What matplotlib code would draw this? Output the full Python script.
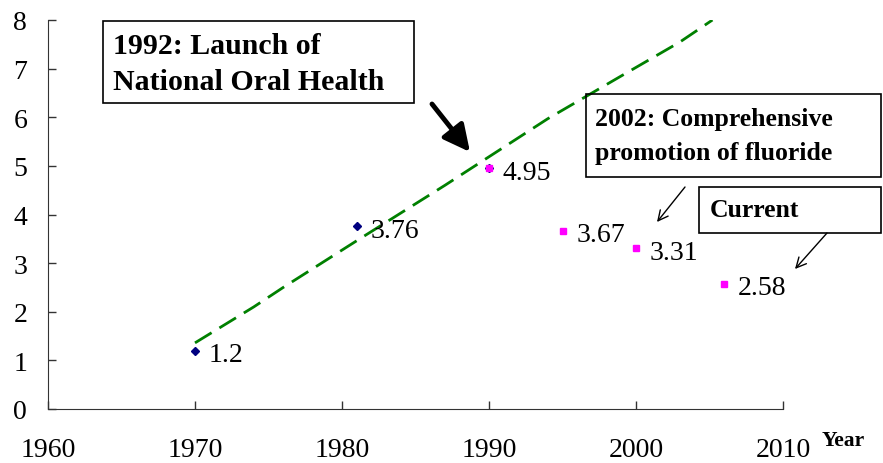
import matplotlib
matplotlib.use("Agg")
import matplotlib.pyplot as plt
from matplotlib.patches import Rectangle

# data
navy_years = [1970, 1981, 1990]
navy_vals = [1.2, 3.76, 4.95]
pink_years = [1990, 1995, 2000, 2006]
pink_vals = [4.95, 3.67, 3.31, 2.58]
label_years = [1970, 1981, 1990, 1995, 2000, 2006]
label_vals = [1.2, 3.76, 4.95, 3.67, 3.31, 2.58]
trend_years = [1970, 1974, 1976, 1981, 1987, 1994, 1999, 2003, 2005.2]
trend_vals = [1.36, 2.1, 2.5, 3.46, 4.6, 5.97, 6.85, 7.55, 8.0]
xticks = [1960, 1970, 1980, 1990, 2000, 2010]
yticks = [0, 1, 2, 3, 4, 5, 6, 7, 8]

W, H = 883, 464
plt.rcParams['font.family'] = ['Liberation Serif', 'DejaVu Serif']

fig = plt.figure(figsize=(W / 100, H / 100), dpi=100)
ax = fig.add_axes([48 / W, 1 - 410 / H, (783 - 48) / W, (410 - 21) / H])


def fx(px):
    return px / W


def fy(py):
    return 1 - py / H


ax.plot(trend_years, trend_vals, color='#008000', lw=2.0, dashes=(7, 3.3), zorder=2)
ax.plot(navy_years, navy_vals, 'D', color='#000080', ms=4.5, zorder=3)
ax.plot(pink_years, pink_vals, 's', color='#FF00FF', ms=5, zorder=4)

for x, y in zip(label_years, label_vals):
    ax.annotate(str(y), (x, y), xytext=(10, -3), textcoords='offset points',
                ha='left', va='center', fontsize=20, color='black')

ax.set_xlim(1960, 2010)
ax.set_ylim(0, 8)
ax.set_xticks(xticks)
ax.set_yticks(yticks)
ax.tick_params(axis='x', direction='in', length=6, pad=20, labelsize=20, width=1, color='#333333')
ax.tick_params(axis='y', direction='in', length=6, pad=15, labelsize=20, width=1, color='#333333')
ax.spines['right'].set_visible(False)
ax.spines['top'].set_visible(False)
ax.spines['left'].set_color('#333333')
ax.spines['bottom'].set_color('#333333')

fig.text(fx(822), fy(441), 'Year', fontsize=15.5, fontweight='bold', ha='left', va='center')

# annotation boxes
boxes = [(103, 22, 414, 104), (586, 95, 881, 178), (699, 188, 881, 234)]
for l, t, r, b in boxes:
    fig.add_artist(Rectangle((fx(l), fy(b)), (r - l) / W, (b - t) / H,
                             transform=fig.transFigure, fill=False, ec='black', lw=1.2))

fig.text(fx(113), fy(47), '1992: Launch of', fontsize=21.5, fontweight='bold', va='center')
fig.text(fx(113), fy(82), 'National Oral Health', fontsize=21.5, fontweight='bold', va='center')
fig.text(fx(595), fy(120), '2002: Comprehensive', fontsize=18.5, fontweight='bold', va='center')
fig.text(fx(595), fy(154), 'promotion of fluoride', fontsize=18.5, fontweight='bold', va='center')
fig.text(fx(710), fy(211), 'Current', fontsize=18.5, fontweight='bold', va='center')

# arrows
ax.annotate('', xy=(470, H - 153), xytext=(432, H - 105), xycoords='figure pixels',
            arrowprops=dict(arrowstyle='-|>,head_length=0.8,head_width=0.4', lw=3.5,
                            color='black', mutation_scale=20, shrinkA=0, shrinkB=0))
ax.annotate('', xy=(657, H - 223), xytext=(685, H - 188), xycoords='figure pixels',
            arrowprops=dict(arrowstyle='->,head_length=0.6,head_width=0.3', lw=1,
                            color='black', mutation_scale=12, shrinkA=0, shrinkB=0))
ax.annotate('', xy=(795, H - 270), xytext=(827, H - 234), xycoords='figure pixels',
            arrowprops=dict(arrowstyle='->,head_length=0.6,head_width=0.3', lw=1,
                            color='black', mutation_scale=12, shrinkA=0, shrinkB=0))

fig.savefig('out.png', dpi=100)
